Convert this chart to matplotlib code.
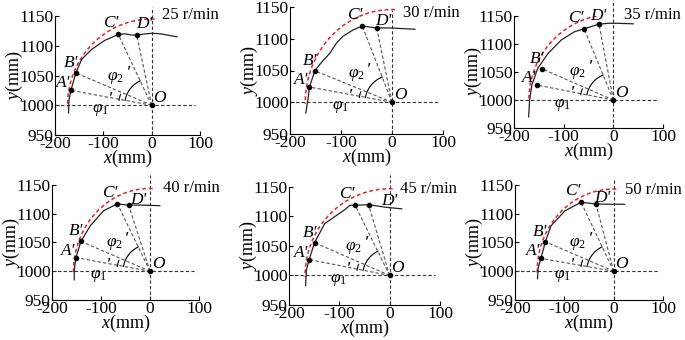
import numpy as np
import matplotlib
matplotlib.use("Agg")
import matplotlib.pyplot as plt

plt.rcParams["font.family"] = ["Liberation Serif", "DejaVu Serif"]
plt.rcParams["mathtext.fontset"] = "custom"
plt.rcParams["mathtext.rm"] = "Liberation Serif"
plt.rcParams["mathtext.it"] = "Liberation Serif:italic"
plt.rcParams["axes.unicode_minus"] = False

# velocidad de rotación de cada panel (r/min)
speeds = [25, 30, 35, 40, 45, 50]

# trayectoria medida (línea negra), mm
traj_x_25 = [-172, -171, -167, -157, -145, -124, -97, -69, -55, -41, -31, -14, 2, 19, 52]
traj_y_25 = [987, 1009, 1025, 1054, 1077, 1094, 1109, 1119, 1120, 1118, 1118, 1120, 1121, 1120, 1115]
traj_x_30 = [-169, -164, -162, -151, -137, -122, -109, -96, -76, -58, -30, -4, 45]
traj_y_30 = [983, 1009, 1024, 1050, 1064, 1077, 1093, 1104, 1114, 1120, 1117, 1117, 1115]
traj_x_35 = [-170.5, -168.5, -164, -152, -131.5, -105, -78, -59, -31, -11, 9, 40]
traj_y_35 = [970, 1000, 1027, 1057, 1083, 1107, 1122, 1127, 1135, 1137, 1137, 1136]
traj_x_40 = [-154.6, -154.6, -151, -141, -122, -95, -66.6, -55, -43.6, -14, 20]
traj_y_40 = [985, 1002, 1024, 1052, 1079, 1105, 1117.5, 1116, 1115, 1115, 1114]
traj_x_45 = [-167, -165.5, -160, -149, -129, -89, -79, -68.6, -42, -6, 24]
traj_y_45 = [983, 1009, 1027, 1056, 1088, 1111.6, 1119, 1119, 1120, 1115.5, 1113]
traj_x_50 = [-154.4, -153, -147.4, -138.6, -127, -99, -66, -36, -5, 22]
traj_y_50 = [987, 1006, 1022.5, 1051, 1079, 1105, 1120, 1117, 1116.5, 1116.5]

traj_x = [traj_x_25, traj_x_30, traj_x_35, traj_x_40, traj_x_45, traj_x_50]
traj_y = [traj_y_25, traj_y_30, traj_y_35, traj_y_40, traj_y_45, traj_y_50]

# puntos A', B', C', D'
pt_names = ["A'", "B'", "C'", "D'"]
pt_x = [[-167, -157, -69, -31],
        [-162, -151, -58, -30],
        [-153, -143.6, -59, -29],
        [-150.6, -141, -66.6, -43.6],
        [-160, -149, -68.6, -42],
        [-147.4, -138.6, -66, -36]]
pt_y = [[1025, 1054.5, 1119, 1118],
        [1024, 1049.5, 1119.5, 1117],
        [1026.6, 1055.7, 1127.5, 1136],
        [1023.6, 1052, 1117.5, 1115],
        [1027, 1055.6, 1119, 1120],
        [1022.5, 1051.4, 1120, 1117]]

# arco teórico (rojo discontinuo), semiejes en mm
arc_rx = [174, 170, 170, 156, 168, 155]
arc_ry = [145, 146, 153, 144, 147, 143]

# origen O
ox, oy = 0, 1000

# posición de cada panel en píxeles (izq, arriba, der, abajo)
W, H = 685, 340
boxes = [(55, 16, 200, 135), (290, 7, 443, 134), (514, 16, 663, 128),
         (52, 185, 199, 300), (289, 187, 440, 305), (515, 185, 663, 300)]
# posición del texto de velocidad (datos)
speed_pos = [(22, 1151), (22, 1140), (22, 1152), (27, 1144), (20, 1147), (22, 1141)]
# desplazamiento de etiquetas (píxeles)
lbl_off = [(-8, 7), (-5, 10), (-8, 11), (8, 9)]
d_off = [(8, 11), (7, 7), (-1, 8), (10, 5), (21, 4), (6, 6)]
vtop = [1165, 1146, 1178, 1167, 1170, 1159]

fig = plt.figure(figsize=(W / 100, H / 100), dpi=100)


def label(ax, txt, xy, off, size=12.5, **kw):
    ax.annotate(txt, xy, xytext=off, textcoords="offset pixels",
                ha="center", va="center", fontsize=size, **kw)


for i, sp in enumerate(speeds):
    l, t, r, b = boxes[i]
    ax = fig.add_axes([l / W, 1 - b / H, (r - l) / W, (b - t) / H])
    sx = (r - l) / 300.0
    sy = (b - t) / 200.0

    # líneas de referencia
    ax.plot([-200, 90], [oy, oy], ls=(0, (3, 2)), color="#333333", lw=0.8)
    ax.plot([ox, ox], [950, vtop[i]], ls=(0, (3, 2)), color="#333333", lw=0.8, clip_on=False)

    # arco teórico
    th = np.radians(np.linspace(88, 181, 80))
    ax.plot(ox + arc_rx[i] * np.cos(th), oy + arc_ry[i] * np.sin(th),
            ls=(0, (2.5, 1.8)), color="#e8202a", lw=1.1)

    # trayectoria
    ax.plot(traj_x[i], traj_y[i], color="#222222", lw=0.9)

    # rayos desde O
    for px, py in zip(pt_x[i], pt_y[i]):
        ax.plot([ox, px], [oy, py], ls=(0, (3, 2)), color="#555555", lw=0.8)
    ax.plot(pt_x[i], pt_y[i], "o", color="black", ms=3, zorder=5)
    ax.plot([ox], [oy], "o", color="black", ms=3, zorder=5)

    # arcos de ángulo (en espacio de píxeles)
    ang = [np.degrees(np.arctan2((py - oy) * sy, (px - ox) * sx))
           for px, py in zip(pt_x[i], pt_y[i])]
    t1 = np.radians(np.linspace(ang[1] + 4, ang[0] + 2, 20))
    ax.plot(ox + 33 * np.cos(t1) / sx, oy + 33 * np.sin(t1) / sy, color="black", lw=0.8)
    t2 = np.radians(np.linspace(ang[2], ang[0], 40))
    ax.plot(ox + 27 * np.cos(t2) / sx, oy + 27 * np.sin(t2) / sy, color="black", lw=0.8)

    # etiquetas
    for k, name in enumerate(pt_names):
        off = d_off[i] if k == 3 else lbl_off[k]
        label(ax, name, (pt_x[i][k], pt_y[i][k]), off, style="italic")
    label(ax, "O", (ox, oy), (8, 7), style="italic")
    label(ax, r"$\varphi_2$", (ox, oy), (-36, 27))
    label(ax, "'", (ox, oy), (-24, 31), size=14, style="italic")
    label(ax, r"$\varphi_1$", (ox, oy), (-51, -5))
    label(ax, "'", (ox, oy), (-42, 5), size=14, style="italic")
    ax.text(speed_pos[i][0], speed_pos[i][1], f"{sp} r/min", ha="left", va="center",
            fontsize=12, clip_on=False)

    ax.set_xlim(-200, 100)
    ax.set_ylim(950, 1150)
    ax.set_xticks([-200, -100, 0, 100])
    ax.set_yticks([950, 1000, 1050, 1100, 1150])
    ax.spines["top"].set_visible(False)
    ax.spines["right"].set_visible(False)
    ax.tick_params(direction="in", length=3, labelsize=12.5, pad=1)
    ax.set_xlabel("$x$(mm)", fontsize=13, labelpad=-3)
    ax.set_ylabel("$y$(mm)", fontsize=13, labelpad=-4)
    ax.patch.set_alpha(0)

fig.savefig("out.png", dpi=100)
